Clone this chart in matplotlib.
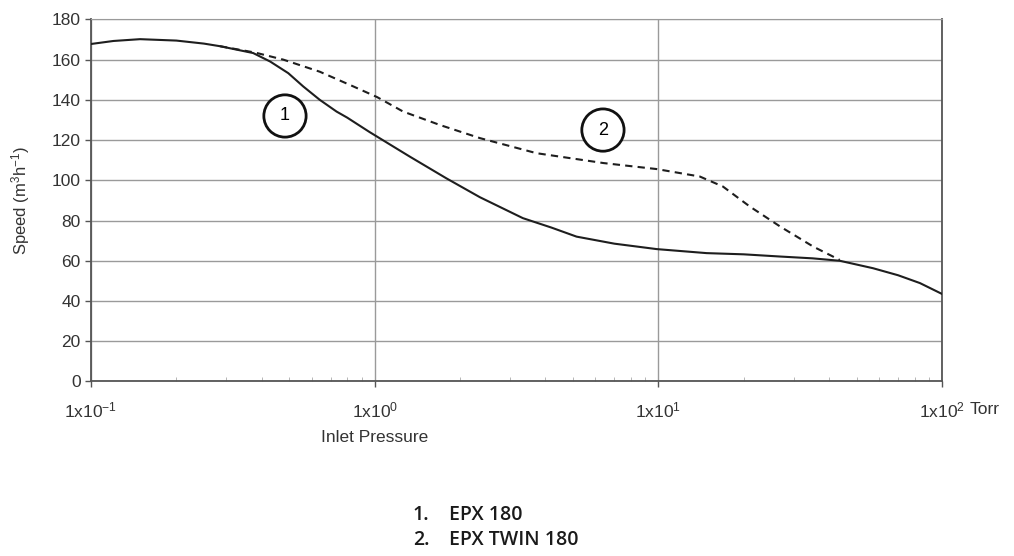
import matplotlib
matplotlib.use('Agg')
from matplotlib import pyplot as plt
from matplotlib.ticker import LogLocator, NullFormatter, FixedLocator

plt.rcParams['font.family'] = ['Liberation Sans', 'DejaVu Sans']
plt.rcParams['mathtext.fontset'] = 'custom'
plt.rcParams['mathtext.rm'] = 'Liberation Sans'
plt.rcParams['mathtext.it'] = 'Liberation Sans:italic'
plt.rcParams['mathtext.bf'] = 'Liberation Sans:bold'

# EPX 180 (curve 1)
epx_p = [0.1, 0.12, 0.149, 0.2, 0.25, 0.285, 0.373, 0.428, 0.496, 0.56, 0.641, 0.734,
         0.80, 0.96, 1.33, 1.79, 2.35, 3.33, 4.2, 5.15, 7, 9.87, 14.8, 20, 26.9, 35,
         43.6, 57.1, 70, 83.6, 100]
epx_speed = [167.8, 169.3, 170.2, 169.5, 168, 166.7, 163.3, 159.1, 153.3, 146.7, 140, 134.2,
             131.2, 124, 111.8, 101, 91.6, 81.2, 76.5, 72.0, 68.5, 65.8, 63.8, 63.2, 62.1, 61.2,
             60.0, 56.3, 52.8, 48.9, 43.5]

# EPX TWIN 180 (curve 2), splits from curve 1 around 0.3 Torr
twin_p = [0.285, 0.38, 0.477, 0.641, 0.841, 1.02, 1.26, 1.7, 2.35, 3.72, 6.4, 9.87, 14,
          16.9, 21, 26.9, 35.2, 43.6]
twin_speed = [166.7, 163.5, 160, 154, 146.7, 141.4, 134.2, 127.5, 121, 113.5, 108.6, 105.6, 101.9,
              96.9, 87, 77, 67, 60.4]

x_ticks = [0.1, 1, 10, 100]
x_labels = ['1x10$^{-1}$', '1x10$^{0}$', '1x10$^{1}$', '1x10$^{2}$']
y_ticks = list(range(0, 181, 20))
legend_nums = ['1.', '2.']
legend_names = ['EPX 180', 'EPX TWIN 180']

fig = plt.figure(figsize=(10.14, 5.56), dpi=100)
ax = fig.add_axes([0.0897, 0.314, 0.8393, 0.651])

ax.set_xscale('log')
ax.set_xlim(0.1, 100)
ax.set_ylim(0, 180)

ax.grid(True, which='major', color='#9a9a9a', lw=1.0)
ax.set_axisbelow(True)

ax.plot(epx_p, epx_speed, color='#1e1e1e', lw=1.5, zorder=3)
ax.plot(twin_p, twin_speed, color='#1e1e1e', lw=1.5, dashes=(3.5, 2.5), zorder=3)

# circled curve numbers
circ = dict(boxstyle='circle,pad=0.7', fc='white', ec='#111111', lw=2.0)
ax.text(0.483, 132, '1', ha='center', va='center', fontsize=13, bbox=circ, zorder=4)
ax.text(6.38, 125, '2', ha='center', va='center', fontsize=13, bbox=circ, zorder=4)

ax.xaxis.set_major_locator(FixedLocator(x_ticks))
ax.set_xticklabels(x_labels)
ax.xaxis.set_minor_locator(LogLocator(base=10, subs=range(2, 10)))
ax.xaxis.set_minor_formatter(NullFormatter())
ax.set_yticks(y_ticks)

ax.tick_params(axis='both', which='major', labelsize=12.5, colors='#555555',
               labelcolor='#333333', length=4, width=1)
ax.tick_params(axis='x', which='major', pad=10)
ax.tick_params(axis='x', which='minor', direction='in', length=3, color='#aaaaaa')

# unit next to the last tick label
ax.annotate('Torr', xy=(100, 0), xycoords=('data', 'axes fraction'),
            xytext=(20, -20), textcoords='offset points', ha='left', va='center',
            fontsize=12.5, color='#333333', annotation_clip=False)

for side in ['left', 'bottom', 'right']:
    ax.spines[side].set_color('#555555')
    ax.spines[side].set_linewidth(1.3)
ax.spines['top'].set_color('#9a9a9a')

ax.set_ylabel('Speed (m$^3$h$^{-1}$)', fontsize=12, color='#333333', labelpad=14)
ax.text(1, -0.155, 'Inlet Pressure', transform=ax.get_xaxis_transform(),
        ha='center', va='center', fontsize=12.5, color='#333333')

for i in range(2):
    yy = 0.0737 - i * 0.045
    fig.text(0.407, yy, legend_nums[i], ha='left', va='center', fontsize=14,
             family=['Open Sans', 'DejaVu Sans'], weight='semibold', color='#1a1a1a')
    fig.text(0.443, yy, legend_names[i], ha='left', va='center', fontsize=14,
             family=['Open Sans', 'DejaVu Sans'], weight='semibold', color='#1a1a1a')

fig.savefig('out.png', dpi=100, facecolor='white')
